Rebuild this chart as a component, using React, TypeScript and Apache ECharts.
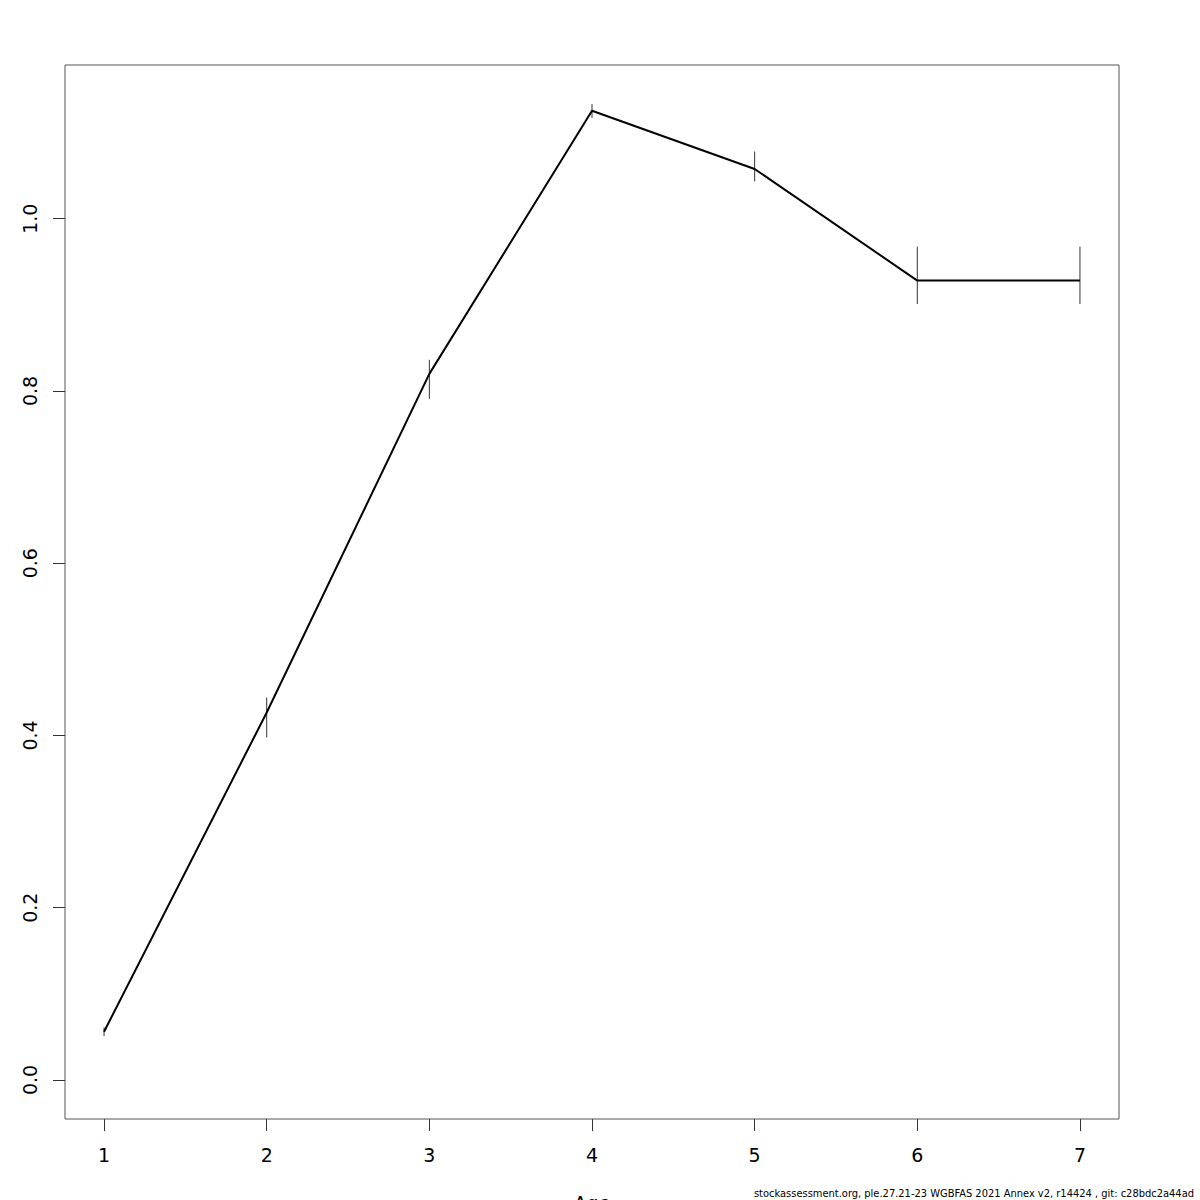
import React, { useEffect, useRef } from "react";
import * as echarts from "echarts";

const ages = [1, 2, 3, 4, 5, 6, 7];
const estimate = [0.056, 0.4266, 0.8198, 1.1253, 1.0577, 0.9281, 0.9281];
const lower = [0.051, 0.3976, 0.7908, 1.117, 1.0433, 0.901, 0.901];
const upper = [0.061, 0.444, 0.8361, 1.1331, 1.0781, 0.9675, 0.9675];
const xTicks = [1, 2, 3, 4, 5, 6, 7];
const yTicks = [0, 0.2, 0.4, 0.6, 0.8, 1.0];
const footer = "stockassessment.org, ple.27.21-23 WGBFAS 2021 Annex v2, r14424 , git: c28bdc2a44ad";

export default function App() {
  const ref = useRef<HTMLDivElement>(null);
  useEffect(() => {
    if (!ref.current) return;
    const chart = echarts.init(ref.current, null, { renderer: "svg" });
    const font = "DejaVu Sans";
    chart.setOption({
      animation: false,
      backgroundColor: "#ffffff",
      textStyle: { fontFamily: font },
      grid: {
        left: 65,
        top: 65,
        right: 81,
        bottom: 81,
        containLabel: false,
        outerBoundsMode: "none",
        show: true,
        borderColor: "#555",
        borderWidth: 1,
        backgroundColor: "transparent",
      },
      xAxis: {
        type: "value",
        min: 0.76,
        max: 7.24,
        name: "Age",
        nameLocation: "middle",
        nameGap: 74,
        nameTextStyle: { fontSize: 19, color: "#000", fontFamily: font, verticalAlign: "top" },
        axisLine: { show: false, onZero: false },
        splitLine: { show: false },
        axisTick: { show: true, length: 12, customValues: xTicks, lineStyle: { color: "#333", width: 1 } },
        axisLabel: {
          customValues: xTicks,
          fontSize: 19,
          color: "#000",
          margin: 26,
          fontFamily: font,
          formatter: (v: number) => String(v),
        },
      },
      yAxis: {
        type: "value",
        min: -0.04532,
        max: 1.17843,
        axisLine: { show: false, onZero: false },
        splitLine: { show: false },
        axisTick: { show: true, length: 12, customValues: yTicks, lineStyle: { color: "#333", width: 1 } },
        axisLabel: {
          customValues: yTicks,
          rotate: 90,
          fontSize: 19,
          color: "#000",
          margin: 26,
          fontFamily: font,
          formatter: (v: number) => v.toFixed(1),
        },
      },
      series: [
        {
          type: "line",
          data: ages.map((a, i) => [a, estimate[i]]),
          symbol: "none",
          lineStyle: { color: "#000", width: 2 },
          z: 3,
        },
        {
          type: "custom",
          data: ages.map((a, i) => [a, lower[i], upper[i]]),
          renderItem: (params: any, api: any) => {
            const p1 = api.coord([api.value(0), api.value(1)]);
            const p2 = api.coord([api.value(0), api.value(2)]);
            return {
              type: "line",
              shape: { x1: p1[0], y1: p1[1], x2: p2[0], y2: p2[1] },
              style: { stroke: "#333", lineWidth: 1 },
            };
          },
          z: 2,
        },
      ],
      graphic: [
        {
          type: "text",
          right: 6,
          top: 1188,
          style: {
            text: footer,
            fontSize: 11,
            fontFamily: "'DejaVu Sans Condensed', 'Liberation Sans', sans-serif",
            fill: "#000",
          },
        },
      ],
    });
    return () => chart.dispose();
  }, []);
  return (
    <div
      ref={ref}
      style={{ position: "fixed", left: 0, top: 0, width: 1200, height: 1200 }}
    />
  );
}
